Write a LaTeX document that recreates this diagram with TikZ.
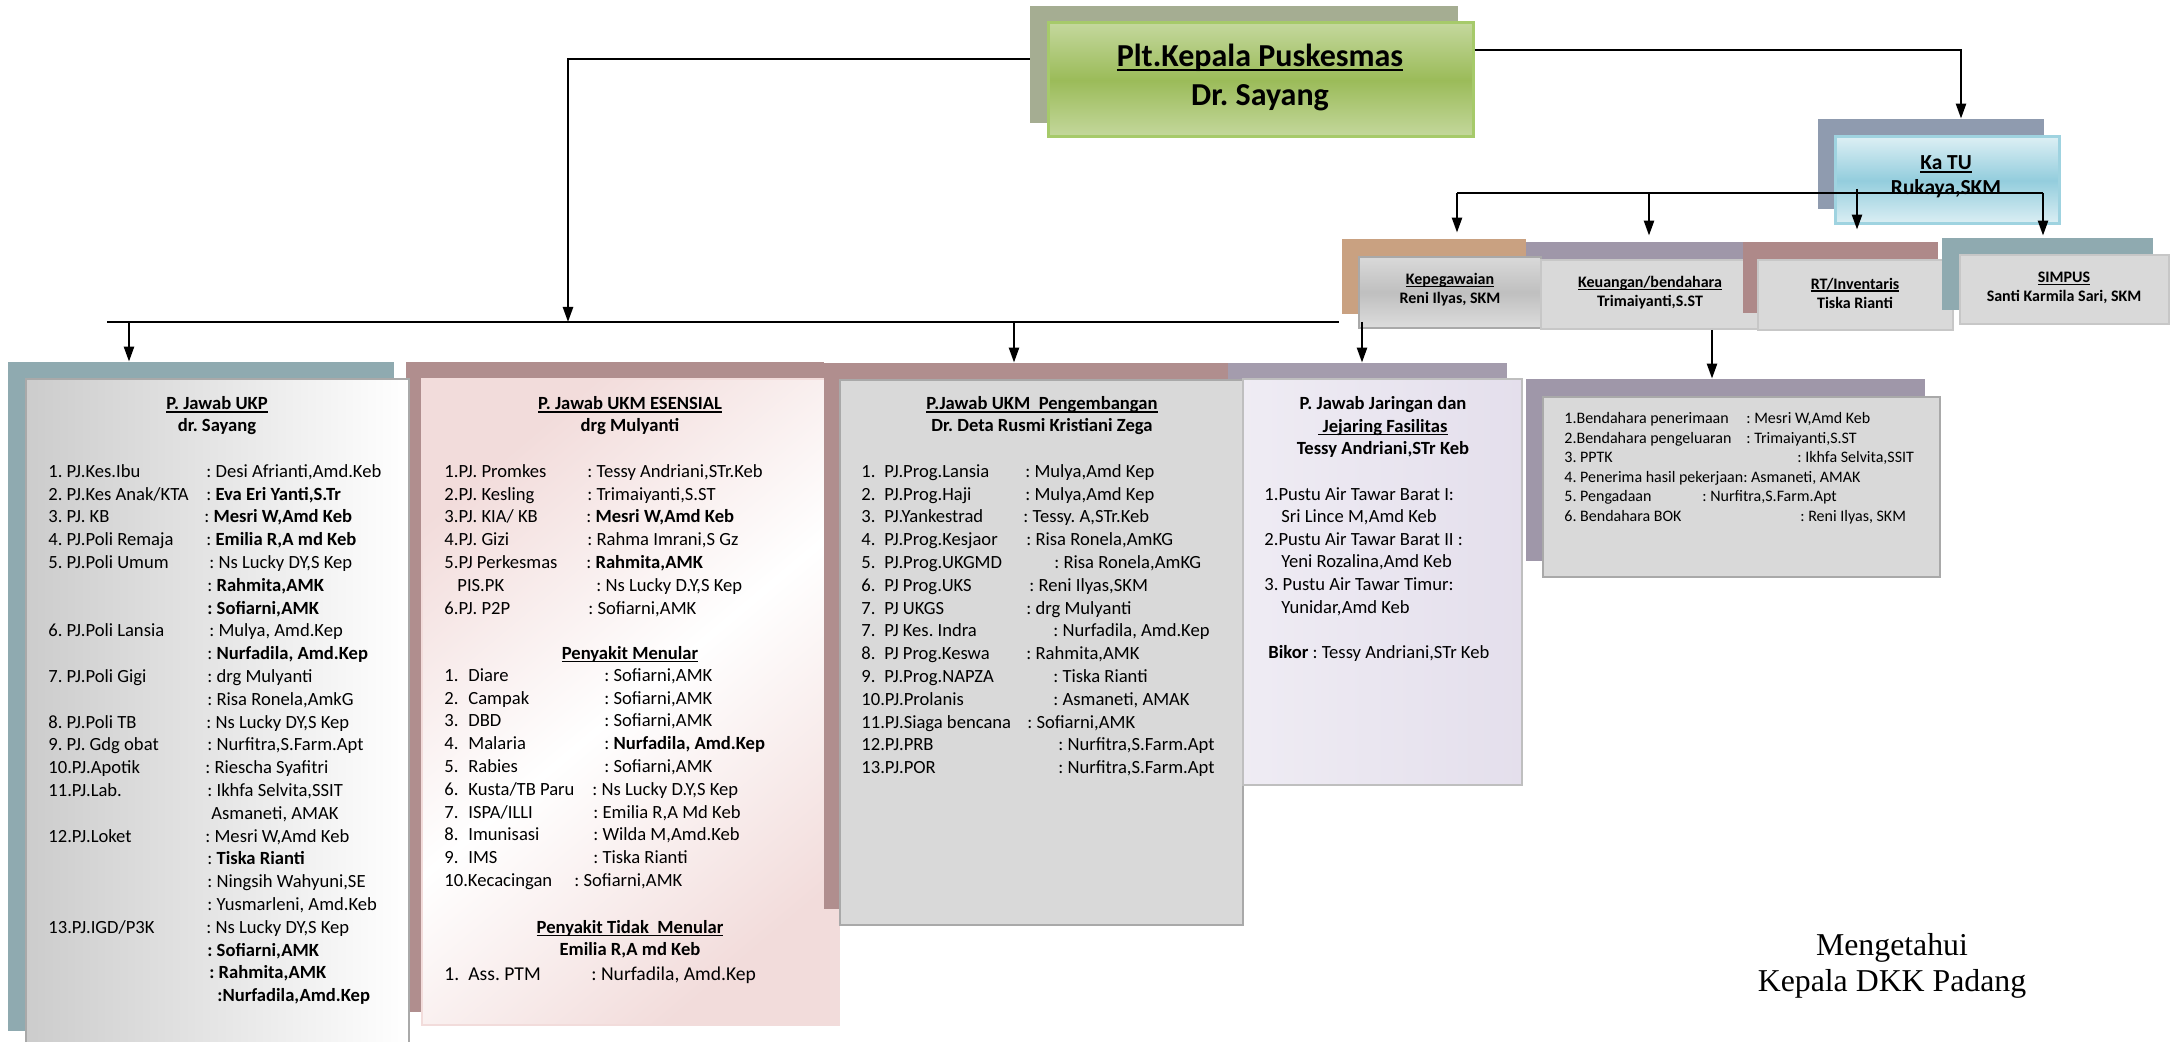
\documentclass[tikz,border=0pt]{standalone}
\usepackage{fontspec}
\setmainfont{Carlito}
\newfontfamily\timesfont{Liberation Serif}
\usetikzlibrary{arrows.meta,fit}
\frenchspacing

\definecolor{oliveback}{HTML}{A5AD92}
\definecolor{greentop}{HTML}{C4D89D}
\definecolor{greenmid}{HTML}{9BBB59}
\definecolor{greenline}{HTML}{A6CA6A}
\definecolor{blueback}{HTML}{8F9BAF}
\definecolor{bluetop}{HTML}{DCEFF4}
\definecolor{bluemid}{HTML}{93CDDD}
\definecolor{blueline}{HTML}{9FD3E0}
\definecolor{tanback}{HTML}{C9A181}
\definecolor{purpleback}{HTML}{9F97A9}
\definecolor{roseback}{HTML}{B08E8E}
\definecolor{redback}{HTML}{AE8989}
\definecolor{tealback}{HTML}{8FAAB0}
\definecolor{boxgray}{HTML}{D9D9D9}
\definecolor{boxline}{HTML}{A9A9A9}
\definecolor{pinkfill}{HTML}{F2DCDB}
\definecolor{lavender}{HTML}{E4DFEC}

\newcommand{\lbl}[2][79pt]{\makebox[#1][l]{#2}}
\newcommand{\undl}[1]{\setbox0=\hbox{#1}\rlap{\rule[-0.155em]{\wd0}{0.075em}}\box0}

\begin{document}
\begin{tikzpicture}[x=0.5pt,y=-0.5pt]
  \tikzstyle{back}=[inner sep=0pt,draw=none]
  \tikzstyle{front}=[inner sep=0pt,line width=1pt]
  \tikzstyle{small}=[align=center,inner sep=0pt,font=\bfseries\fontsize{8}{9.5}\selectfont]
  \tikzstyle{title}=[align=center,inner sep=0pt,font=\bfseries\fontsize{9.3}{11}\selectfont]
  \tikzstyle{list}=[anchor=north west,inner sep=0pt,align=left,font=\fontsize{9.3}{11.4}\selectfont]
  \tikzstyle{edge}=[draw,line width=1.2pt,-{Triangle[length=7.5pt,width=5pt]}]
  \tikzstyle{wire}=[draw,line width=1.2pt]

  \useasboundingbox (0,0) rectangle (2174,1042);
  \fill[white] (0,0) rectangle (2174,1042);

  % kepala puskesmas
  \node[back,fill=oliveback,fit={(1030,6) (1458,123)}] (kepalabg) {};
  \node[front,draw=greenline,line width=1.5pt,top color=greentop,bottom color=greentop,middle color=greenmid,
        fit={(1048,23) (1473,137)}] (kepala) {};
  \node[align=center,inner sep=0pt,font=\bfseries\fontsize{16}{19.5}\selectfont] (kepalat) at (1260,77)
        {\undl{Plt.Kepala Puskesmas}\\Dr. Sayang};

  % ka TU
  \node[back,fill=blueback,fit={(1818,119) (2044,209)}] (katubg) {};
  \node[front,draw=blueline,line width=1.5pt,top color=bluetop,bottom color=bluetop,middle color=bluemid,
        fit={(1835,137) (2059,224)}] (katu) {};
  \node[align=center,inner sep=0pt,font=\bfseries\fontsize{10.7}{12.5}\selectfont] (katut) at (1946,177)
        {\undl{Ka TU}\\Rukaya,SKM};

  % staf TU
  \node[back,fill=tanback,fit={(1342,239) (1526,314)}] (kepegbg) {};
  \node[back,fill=purpleback,fit={(1526,242) (1743,314)}] (keubg) {};
  \node[front,draw=boxline,top color=boxgray,bottom color=boxgray!90,middle color=black!25,
        fit={(1359,257) (1541,328)}] (kepeg) {};
  \node[front,draw=black!22,fill=boxgray,fit={(1541,260) (1758,329)}] (keu) {};
  \node[back,fill=redback,fit={(1743,242) (1938,313)}] (rtbg) {};
  \node[front,draw=black!22,fill=boxgray,fit={(1758,260) (1953,330)}] (rt) {};
  \node[back,fill=tealback,fit={(1942,238) (2153,310)}] (simpusbg) {};
  \node[front,draw=black!22,fill=boxgray,fit={(1960,255) (2169,324)}] (simpus) {};
  \node[small] (kepegt) at (1450,290) {\undl{Kepegawaian}\\Reni Ilyas, SKM};
  \node[small] (keut) at (1650,293) {\undl{Keuangan/bendahara}\\Trimaiyanti,S.ST};
  \node[small] (rtt) at (1855,293) {\undl{RT/Inventaris}\\Tiska Rianti};
  \node[small] (simpust) at (2064,288) {\undl{SIMPUS}\\Santi Karmila Sari, SKM};

  % bendahara
  \node[back,fill=purpleback,fit={(1526,379) (1925,561)}] (bendbg) {};
  \node[front,draw=boxline,fill=boxgray,fit={(1543,397) (1940,577)}] (bend) {};
  \node[list,font=\fontsize{8}{9.75}\selectfont] (bendlist) at (1564,412) {
    \lbl[91pt]{1.Bendahara penerimaan}: Mesri W,Amd Keb\\
    \lbl[91pt]{2.Bendahara pengeluaran}: Trimaiyanti,S.ST\\
    \lbl[116.5pt]{3. PPTK}: Ikhfa Selvita,SSIT\\
    4. Penerima hasil pekerjaan: Asmaneti, AMAK\\
    \lbl[69pt]{5. Pengadaan}: Nurfitra,S.Farm.Apt\\
    \lbl[118pt]{6. Bendahara BOK}: Reni Ilyas, SKM};

  % penanggung jawab
  \node[back,fill=tealback,fit={(8,362) (394,1031)}] (ukpbg) {};
  \node[back,fill=roseback,fit={(406,362) (824,1012)}] (ukmebg) {};
  \node[front,draw=boxline,left color=black!20,right color=white,fit={(26,379) (409,1046)}] (ukp) {};
  \node[front,draw=pinkfill,top color=pinkfill,bottom color=pinkfill,middle color=white,shading angle=40,
        fit={(422,379) (839,1025)}] (ukme) {};
  \node[back,fill=purpleback!95,fit={(1228,363) (1507,770)}] (jarbg) {};
  \node[back,fill=roseback,fit={(824,363) (1228,909)}] (ukmpbg) {};
  \node[front,draw=boxline,fill=boxgray,fit={(840,380) (1243,925)}] (ukmp) {};
  \node[front,draw=black!25,left color=lavender!60,right color=lavender,fit={(1243,379) (1522,785)}] (jar) {};

  % isi UKP
  \node[title] (ukpt) at (217,416) {\undl{P. Jawab UKP}\\dr. Sayang};
  \node[list] (ukplist) at (48,464) {
    \lbl{1. PJ.Kes.Ibu}: Desi Afrianti,Amd.Keb\\
    \lbl{2. PJ.Kes Anak/KTA}: \textbf{Eva Eri Yanti,S.Tr}\\
    \lbl[78pt]{3. PJ. KB}: \textbf{Mesri W,Amd Keb}\\
    \lbl{4. PJ.Poli Remaja}: \textbf{Emilia R,A md Keb}\\
    \lbl[80.5pt]{5. PJ.Poli Umum}: Ns Lucky DY,S Kep\\
    \lbl[79.5pt]{}: \textbf{Rahmita,AMK}\\
    \lbl[79.5pt]{}\textbf{: Sofiarni,AMK}\\
    \lbl[80.5pt]{6. PJ.Poli Lansia}: Mulya, Amd.Kep\\
    \lbl[79.5pt]{}: \textbf{Nurfadila, Amd.Kep}\\
    \lbl[79.5pt]{7. PJ.Poli Gigi}: drg Mulyanti\\
    \lbl[79.5pt]{}: Risa Ronela,AmkG\\
    \lbl{8. PJ.Poli TB}: Ns Lucky DY,S Kep\\
    \lbl[79.5pt]{9. PJ. Gdg obat}: Nurfitra,S.Farm.Apt\\
    \lbl[78.5pt]{10.PJ.Apotik}: Riescha Syafitri\\
    \lbl[79.5pt]{11.PJ.Lab.}: Ikhfa Selvita,SSIT\\
    \lbl[81.5pt]{}Asmaneti, AMAK\\
    \lbl[78.5pt]{12.PJ.Loket}: Mesri W,Amd Keb\\
    \lbl[79.5pt]{}: \textbf{Tiska Rianti}\\
    \lbl[79.5pt]{}: Ningsih Wahyuni,SE\\
    \lbl[79.5pt]{}: Yusmarleni, Amd.Keb\\
    \lbl{13.PJ.IGD/P3K}: Ns Lucky DY,S Kep\\
    \lbl[79.5pt]{}\textbf{: Sofiarni,AMK}\\
    \lbl[80.5pt]{}\textbf{: Rahmita,AMK}\\
    \lbl[84.5pt]{}\textbf{:Nurfadila,Amd.Kep}};

  % isi UKM esensial
  \node[title] (ukmet) at (630,416) {\undl{P. Jawab UKM ESENSIAL}\\drg Mulyanti};
  \node[list] (ukmelist) at (444,464) {
    \lbl[71.5pt]{1.PJ. Promkes}: Tessy Andriani,STr.Keb\\
    \lbl[71.5pt]{2.PJ. Kesling}: Trimaiyanti,S.ST\\
    \lbl[71pt]{3.PJ. KIA/ KB}: \textbf{Mesri W,Amd Keb}\\
    \lbl[71.5pt]{4.PJ. Gizi}: Rahma Imrani,S Gz\\
    \lbl[71pt]{5.PJ Perkesmas}: \textbf{Rahmita,AMK}\\
    \hspace*{6.5pt}\lbl[69.5pt]{PIS.PK}: Ns Lucky D.Y,S Kep\\
    \lbl[72pt]{6.PJ. P2P}: Sofiarni,AMK};
  \node[title] (menular) at (630,654) {\undl{Penyakit Menular}};
  \node[list] (menularlist) at (444,668) {
    \lbl[12pt]{1.}\lbl[68pt]{Diare}: Sofiarni,AMK\\
    \lbl[12pt]{2.}\lbl[68pt]{Campak}: Sofiarni,AMK\\
    \lbl[12pt]{3.}\lbl[68pt]{DBD}: Sofiarni,AMK\\
    \lbl[12pt]{4.}\lbl[68pt]{Malaria}: \textbf{Nurfadila, Amd.Kep}\\
    \lbl[12pt]{5.}\lbl[68pt]{Rabies}: Sofiarni,AMK\\
    \lbl[12pt]{6.}\lbl[62pt]{Kusta/TB Paru}: Ns Lucky D.Y,S Kep\\
    \lbl[12pt]{7.}\lbl[62.5pt]{ISPA/ILLI}: Emilia R,A Md Keb\\
    \lbl[12pt]{8.}\lbl[62.5pt]{Imunisasi}: Wilda M,Amd.Keb\\
    \lbl[12pt]{9.}\lbl[62.5pt]{IMS}: Tiska Rianti\\
    \lbl[65pt]{10.Kecacingan}: Sofiarni,AMK};
  \node[title] (tidakmenular) at (630,939) {\undl{Penyakit Tidak\ \ Menular}\\Emilia R,A md Keb};
  \node[list,font=\fontsize{9.8}{11.4}\selectfont] (ptmlist) at (444,966) {
    \lbl[12pt]{1.}\lbl[61.5pt]{Ass. PTM}: Nurfadila, Amd.Kep};

  % isi UKM pengembangan
  \node[title] (ukmpt) at (1042,416) {\undl{P.Jawab UKM\ \ Pengembangan}\\Dr. Deta Rusmi Kristiani Zega};
  \node[list] (ukmplist) at (861,464) {
    \lbl[11.5pt]{1.}\lbl[70.5pt]{PJ.Prog.Lansia}: Mulya,Amd Kep\\
    \lbl[11.5pt]{2.}\lbl[70.5pt]{PJ.Prog.Haji}: Mulya,Amd Kep\\
    \lbl[11.5pt]{3.}\lbl[69.5pt]{PJ.Yankestrad}: Tessy. A,STr.Keb\\
    \lbl[11.5pt]{4.}\lbl[71pt]{PJ.Prog.Kesjaor}: Risa Ronela,AmKG\\
    \lbl[11.5pt]{5.}\lbl[85pt]{PJ.Prog.UKGMD}: Risa Ronela,AmKG\\
    \lbl[11.5pt]{6.}\lbl[72.5pt]{PJ Prog.UKS}: Reni Ilyas,SKM\\
    \lbl[11.5pt]{7.}\lbl[71pt]{PJ UKGS}: drg Mulyanti\\
    \lbl[11.5pt]{7.}\lbl[84.5pt]{PJ Kes. Indra}: Nurfadila, Amd.Kep\\
    \lbl[11.5pt]{8.}\lbl[71pt]{PJ Prog.Keswa}: Rahmita,AMK\\
    \lbl[11.5pt]{9.}\lbl[84.5pt]{PJ.Prog.NAPZA}: Tiska Rianti\\
    \lbl[96pt]{10.PJ.Prolanis}: Asmaneti, AMAK\\
    \lbl[83pt]{11.PJ.Siaga bencana}: Sofiarni,AMK\\
    \lbl[98.5pt]{12.PJ.PRB}: Nurfitra,S.Farm.Apt\\
    \lbl[98.5pt]{13.PJ.POR}: Nurfitra,S.Farm.Apt};

  % isi jaringan
  \node[title,font=\bfseries\fontsize{9.3}{11.3}\selectfont] (jart) at (1383,427)
    {P. Jawab Jaringan dan\\\undl{ Jejaring Fasilitas}\\Tessy Andriani,STr Keb};
  \node[list,font=\fontsize{9.3}{11.3}\selectfont] (jarlist) at (1264,487) {
    1.Pustu Air Tawar Barat I:\\
    \hspace*{8.5pt}Sri Lince M,Amd Keb\\
    2.Pustu Air Tawar Barat II :\\
    \hspace*{8.5pt}Yeni Rozalina,Amd Keb\\
    3. Pustu Air Tawar Timur:\\
    \hspace*{8.5pt}Yunidar,Amd Keb\\[11.3pt]
    \hspace*{2pt}\textbf{Bikor} : Tessy Andriani,STr Keb};

  \node[align=center,font=\timesfont\fontsize{15.9}{18}\selectfont] (mengetahui) at (1892,966)
    {Mengetahui\\Kepala DKK Padang};

  % garis
  \coordinate (tl) at (568,59);
  \coordinate (busl) at (107,322);
  \coordinate (busr) at (1339,322);
  \coordinate (d1) at (129,322);
  \coordinate (d2) at (1014,322);
  \coordinate (d3) at (1362,322);
  \coordinate (tr) at (1961,50);
  \coordinate (k1) at (1457,193);
  \coordinate (k2) at (1649,193);
  \coordinate (k3) at (1857,193);
  \coordinate (k4) at (2043,193);
  \coordinate (kb) at (1712,0);

  \path[edge] (kepalabg.west |- tl) -- (tl) -- (tl |- busl);
  \path[wire] (busl) -- (busr);
  \path[edge] (d1) -- (d1 |- ukpbg.north);
  \path[edge] (d2) -- (d2 |- ukmpbg.north);
  \path[edge] (d3) -- (d3 |- jarbg.north);
  \path[edge] (kepala.east |- tr) -- (tr) -- (tr |- katubg.north);
  \path[wire] (k1) -- (k4);
  \path[edge,shorten >=3pt] (k1) -- (k1 |- kepegbg.north);
  \path[edge,shorten >=3pt] (k2) -- (k2 |- keubg.north);
  \path[edge,shorten >=6pt] (k3 |- 0,189) -- (k3 |- rtbg.north);
  \path[edge,shorten >=1pt] (k4) -- (k4 |- simpusbg.north);
  \path[edge] (keu.south -| kb) -- (bendbg.north -| kb);
\end{tikzpicture}
\end{document}
